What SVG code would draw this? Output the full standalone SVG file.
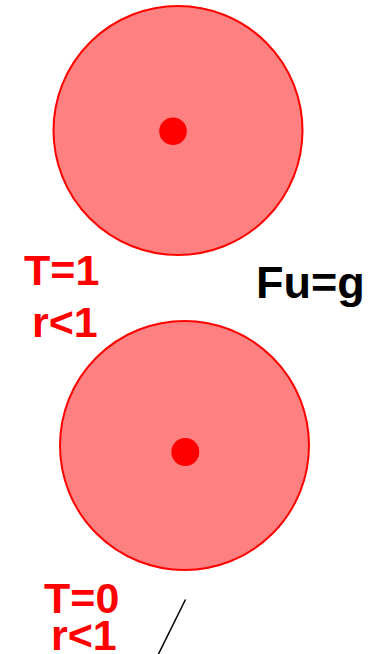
<svg xmlns="http://www.w3.org/2000/svg" width="374" height="654" viewBox="0 0 374 654">
<style>
.ball{fill:#ff8080;stroke:#ff0000;stroke-width:2}
.dot{fill:#ff0000}
.lbl{font-family:"Liberation Sans",Arial,sans-serif;font-weight:bold;font-size:43px;fill:#ff0000}
.big{font-size:45px}
.blk{fill:#000000}
</style>
<rect width="374" height="654" fill="#ffffff"/>
<g id="ball1">
<circle class="ball" cx="178" cy="130.5" r="124.5"/>
<circle class="dot" cx="173" cy="131.3" r="13.8"/>
</g>
<g id="ball2">
<circle class="ball" cx="184.5" cy="445.5" r="124.5"/>
<circle class="dot" cx="185.3" cy="452" r="14"/>
</g>
<g id="labels">
<text class="lbl" x="24" y="285">T=1</text>
<text class="lbl" x="32" y="336.5">r&lt;1</text>
<text class="lbl blk big" x="256" y="297.5">Fu=g</text>
<text class="lbl" x="44" y="612.5">T=0</text>
<text class="lbl" x="51" y="650">r&lt;1</text>
</g>
<g id="connectors">
<line x1="185.5" y1="599.5" x2="158" y2="655" stroke="#000000" stroke-width="1.5"/>
</g>
</svg>
